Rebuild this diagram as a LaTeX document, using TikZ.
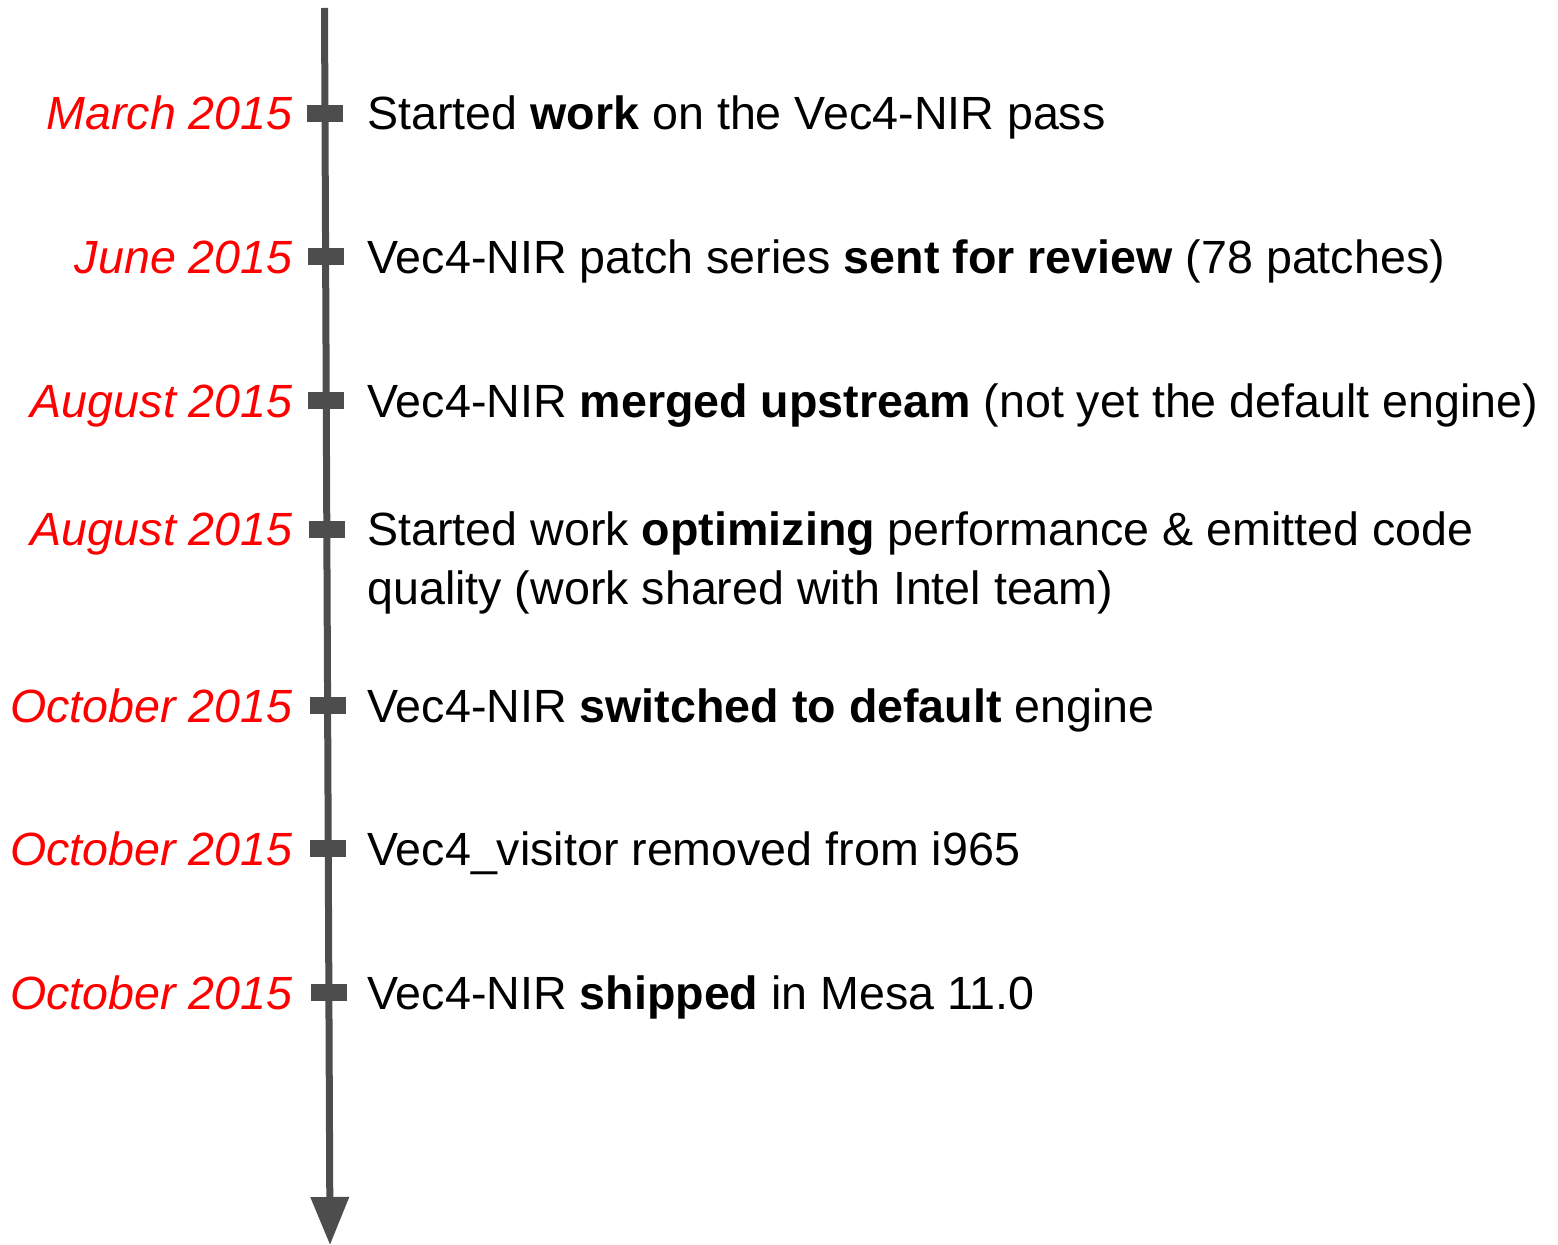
\documentclass[tikz,border=0pt]{standalone}
\usepackage{fontspec}
\setmainfont{Liberation Sans}
\usetikzlibrary{arrows.meta,calc}
\definecolor{axisgray}{HTML}{4D4D4D}
\definecolor{datered}{HTML}{FF0000}
\tikzset{
  datelabel/.style={anchor=base east, inner sep=0pt, text=datered,
    font=\fontsize{23.3}{29}\selectfont\itshape},
  eventlabel/.style={anchor=base west, inner sep=0pt, text=black, align=left,
    font=\fontsize{23.3}{29}\selectfont},
  tickmark/.style={rectangle, fill=axisgray, inner sep=0pt,
    minimum width=18pt, minimum height=8.5pt},
  axisline/.style={draw=axisgray, line width=3.5pt,
    -{Triangle[length=24pt,width=18.5pt]}}
}
\begin{document}
\begin{tikzpicture}[x=0.5pt,y=-0.5pt]
  \useasboundingbox (0,0) rectangle (1558,1245);
  % time axis
  \coordinate (top) at (324.5,8);
  \coordinate (bot) at (330,1245);
  \draw[axisline] (top) -- (bot);
  % tick marks along the axis
  \node[tickmark] (t1) at ($(top)!0.0849!(bot)$) {};
  \node[tickmark] (t2) at ($(top)!0.2013!(bot)$) {};
  \node[tickmark] (t3) at ($(top)!0.3177!(bot)$) {};
  \node[tickmark] (t4) at ($(top)!0.4212!(bot)$) {};
  \node[tickmark] (t5) at ($(top)!0.5635!(bot)$) {};
  \node[tickmark] (t6) at ($(top)!0.6791!(bot)$) {};
  \node[tickmark] (t7) at ($(top)!0.7955!(bot)$) {};
  % dates
  \node[datelabel] (d1) at (293,130) {March 2015};
  \node[datelabel] (d2) at (293,274) {June 2015};
  \node[datelabel] (d3) at (293,418) {August 2015};
  \node[datelabel] (d4) at (293,546) {August 2015};
  \node[datelabel] (d5) at (293,722) {October 2015};
  \node[datelabel] (d6) at (293,865) {October 2015};
  \node[datelabel] (d7) at (293,1009) {October 2015};
  % events (a two-line node sits on the baseline of its last line)
  \node[eventlabel] (e1) at (367,130) {Started \textbf{work} on the Vec4-NIR pass};
  \node[eventlabel] (e2) at (367,274) {Vec4-NIR patch series \textbf{sent for review} (78 patches)};
  \node[eventlabel] (e3) at (367,418) {Vec4-NIR \textbf{merged upstream} (not yet the default engine)};
  \node[eventlabel] (e4) at (367,604) {Started work \textbf{optimizing} performance \& emitted code\\quality (work shared with Intel team)};
  \node[eventlabel] (e5) at (367,722) {Vec4-NIR \textbf{switched to default} engine};
  \node[eventlabel] (e6) at (367,865) {Vec4\_visitor removed from i965};
  \node[eventlabel] (e7) at (367,1009) {Vec4-NIR \textbf{shipped} in Mesa 11.0};
\end{tikzpicture}
\end{document}
